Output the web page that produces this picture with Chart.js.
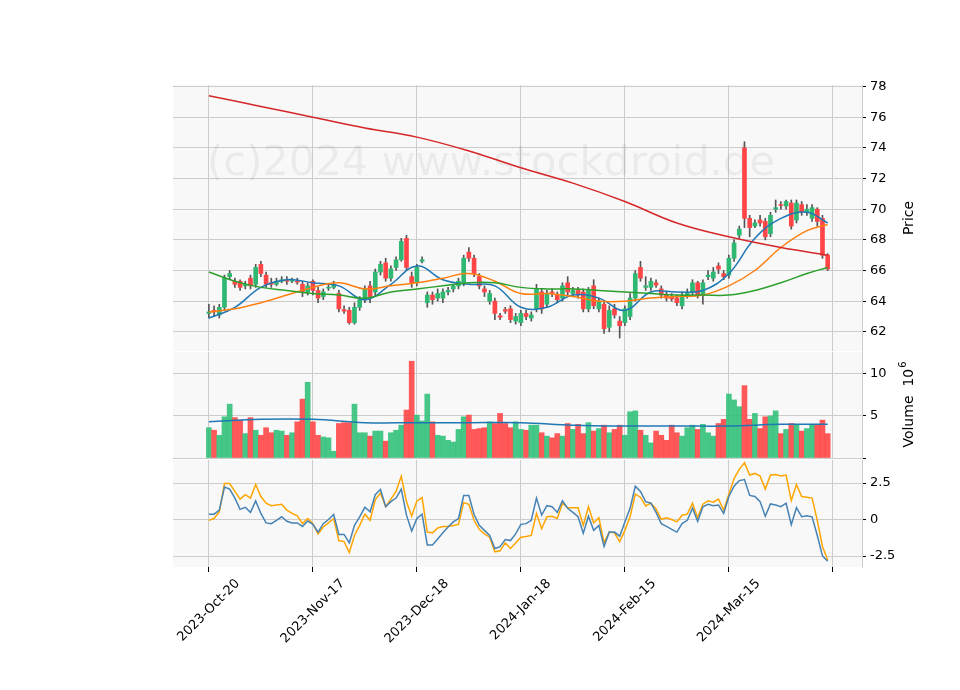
<!DOCTYPE html>
<html>
<head>
<meta charset="utf-8">
<script src="https://cdn.jsdelivr.net/npm/chart.js@4"></script>
<style>
  body { margin: 0; background: #fff; }
  #wrap { position: relative; width: 960px; height: 690px; }
  canvas { position: absolute; left: 0; top: 0; }
</style>
</head>
<body>
<div id="wrap">
  <canvas id="price" width="960" height="690"></canvas>
  <canvas id="volume" width="960" height="690"></canvas>
  <canvas id="osc" width="960" height="690"></canvas>
</div>
<script>
// tick labels on the x axis (every 20 trading days)
const tickIdx = [0, 20, 40, 60, 80, 100, 120];
const tickLabels = ["2023-Oct-20", "2023-Nov-17", "2023-Dec-18", "2024-Jan-18", "2024-Feb-15", "2024-Mar-15", ""];

// daily candles, index 0 = 2023-Oct-20
const opens = [63.2,63.4,63.1,63.6,65.6,65.3,65.3,65.0,65.5,65.1, 66.4,65.7,65.2,65.1,65.3,65.4,65.3,65.3,65.1,64.6,
  65.3,64.7,64.3,64.85,64.9,64.5,63.45,63.4,62.6,63.6, 64.1,65.0,64.6,65.9,66.5,65.5,66.2,66.7,68.1,65.6,
  65.2,66.6,63.9,64.4,64.2,64.2,64.6,64.8,65.0,65.2, 67.2,66.8,65.6,64.8,64.0,64.0,63.05,63.45,63.5,62.7,
  62.6,63.2,62.9,63.5,64.6,63.8,64.6,64.4,64.2,65.2, 64.5,64.7,64.6,63.5,65.0,63.5,63.8,62.3,63.5,62.7,
  62.6,63.0,64.2,66.2,64.9,64.9,65.2,64.8,64.4,64.25, 64.2,63.7,64.4,64.6,65.2,64.4,65.6,65.5,66.3,65.8,
  65.7,66.8,68.3,74.0,69.4,68.9,69.3,69.2,68.4,70.0, 70.3,70.2,70.4,69.3,70.3,69.8,69.4,70.0,69.4,67.0];
const closes = [63.3,63.3,63.6,65.5,65.8,65.1,64.9,65.1,65.0,66.2, 65.8,65.1,65.1,65.3,65.4,65.3,65.35,65.25,64.6,65.0,
  64.7,64.2,64.6,64.9,65.1,63.5,63.35,62.6,63.6,64.1, 64.8,64.3,65.9,66.4,65.5,66.1,66.7,67.9,66.2,65.2,
  66.2,66.7,64.4,64.1,64.5,64.6,64.7,65.0,65.3,66.8, 66.8,65.8,65.0,64.6,64.5,63.2,62.95,63.35,62.8,63.0,
  63.2,63.0,63.1,64.8,63.5,64.5,64.5,64.1,65.0,64.6, 64.7,64.4,63.5,64.7,63.7,64.0,62.2,63.4,63.1,62.4,
  63.5,64.2,65.8,65.5,65.0,65.3,65.05,64.4,64.2,64.15, 63.9,64.4,64.5,65.2,64.4,65.2,65.7,65.9,66.1,65.6,
  66.8,67.8,68.7,69.4,68.8,69.1,69.1,68.2,69.6,70.1, 70.25,70.5,68.9,70.4,69.8,70.0,70.1,69.2,67.0,66.1];
const highs = [63.8,63.7,63.8,65.7,66.0,65.5,65.4,65.3,65.7,66.4, 66.6,65.9,65.5,65.5,65.6,65.6,65.5,65.5,65.3,65.2,
  65.4,64.9,64.8,65.1,65.3,64.7,63.7,63.6,63.9,64.3, 65.0,65.3,66.1,66.6,66.8,66.3,66.9,68.1,68.3,65.9,
  66.4,66.9,64.6,64.6,64.8,64.8,64.9,65.1,65.5,67.0, 67.5,67.0,65.8,65.0,64.7,64.2,63.2,63.6,63.7,63.2,
  63.4,63.4,63.3,65.1,64.8,64.7,64.8,64.6,65.2,65.6, 64.9,64.9,64.8,64.9,65.4,64.2,64.0,63.7,63.8,63.0,
  63.7,64.5,66.0,66.6,65.6,65.5,65.4,65.0,64.6,64.5, 64.4,64.6,64.8,65.4,65.3,65.4,66.0,66.2,66.5,66.0,
  67.0,68.0,68.9,74.4,69.6,69.3,69.6,69.4,69.8,70.6, 70.5,70.6,70.6,70.6,70.5,70.3,70.3,70.1,69.6,67.1];
const lows = [62.9,63.0,62.9,63.4,65.4,64.9,64.7,64.8,64.8,64.9, 65.6,64.9,64.9,65.0,65.2,65.1,65.2,65.1,64.3,64.4,
  64.4,63.9,64.1,64.7,64.8,63.3,63.2,62.5,62.5,63.4, 63.9,63.9,64.3,65.7,65.3,65.3,66.0,66.6,66.0,64.9,
  65.0,66.5,63.6,63.8,64.0,63.9,64.4,64.6,64.8,65.0, 66.6,65.6,64.8,64.3,63.8,62.8,62.8,63.2,62.6,62.5,
  62.4,62.8,62.7,63.3,63.2,63.6,64.3,63.9,64.0,64.4, 64.3,64.2,63.3,63.3,63.5,63.3,61.9,62.0,62.9,61.6,
  62.4,62.8,64.0,65.3,64.7,64.7,64.9,64.2,64.0,64.0, 63.7,63.5,64.2,64.4,64.2,63.8,65.4,65.3,65.8,65.4,
  65.5,66.6,68.1,68.8,68.2,68.8,68.9,68.0,68.2,69.8, 70.0,70.0,68.7,69.1,69.6,69.6,69.2,68.9,66.8,66.0];

// moving averages, read every 5 trading days
const maIdx = [0,5,10,15,20,25,30,35,40,45,50,55,60,65,70,75,80,85,90,95,100,105,110,115,119];
const maShort = [62.9,63.6,64.9,65.4,65.2,65.0,64.1,65.1,66.3,65.4,65.1,65.0,63.6,63.6,64.4,64.2,63.4,64.6,64.6,64.7,65.8,68.1,69.4,69.8,69.1];
const maMid = [63.3,63.5,63.9,64.4,64.9,65.2,64.8,65.0,65.2,65.5,65.8,65.3,64.5,64.5,64.3,64.0,64.0,64.2,64.3,64.4,65.0,66.0,67.5,68.6,69.0];
const maLong = [65.9,65.3,64.9,64.7,64.5,64.4,64.2,64.6,64.8,65.0,65.2,65.2,64.9,64.8,64.8,64.7,64.6,64.5,64.4,64.4,64.4,64.7,65.2,65.8,66.2];
// 200 day average, read every 10 trading days
const ma200Idx = [0,10,20,30,40,50,60,70,80,90,100,110,119];
const ma200 = [77.4,76.7,76.0,75.3,74.7,73.8,72.7,71.7,70.5,69.1,68.2,67.5,67.0];

// volume in millions
const volumes = [3.6,3.3,2.7,4.9,6.4,4.8,4.5,2.9,4.8,3.3, 2.7,3.6,3.0,3.3,3.2,2.7,3.0,4.3,7.0,9.0,
  4.3,2.7,2.5,2.4,0.8,4.1,4.2,4.2,6.4,3.0, 3.0,2.6,3.2,3.2,2.0,3.0,3.3,3.9,5.7,11.5,
  5.1,4.4,7.6,4.3,2.7,2.6,2.1,1.9,3.4,4.9, 5.1,3.4,3.5,3.6,4.3,4.1,5.3,4.1,3.6,4.3,
  3.4,3.3,3.9,3.9,3.0,2.6,2.4,2.9,2.6,4.1, 3.4,4.0,2.9,4.2,3.2,3.5,3.9,3.0,3.4,3.9,
  2.7,5.5,5.6,3.3,2.7,1.8,3.2,2.7,2.1,3.9, 3.0,2.6,3.6,3.9,3.4,4.0,3.0,2.6,4.1,4.6,
  7.6,6.9,6.1,8.6,4.6,5.3,3.5,4.9,5.0,5.6, 2.9,3.4,4.1,3.9,3.2,3.5,3.9,3.9,4.5,2.9];
const volMaIdx = [0,10,20,30,40,50,60,70,80,90,100,110,119];
const volMa = [4.3,4.6,4.6,4.2,4.2,4.2,4.2,3.9,3.8,3.8,3.8,4.0,4.0];

// oscillator lines
const oscBlue = [0.37,0.37,0.65,2.23,2.09,1.47,0.7,0.84,0.49,1.28, 0.42,-0.23,-0.28,-0.05,0.19,-0.12,-0.23,-0.23,-0.47,-0.09,
  -0.33,-0.86,-0.28,0,0.35,-1.02,-1.02,-1.6,-0.4,0.19, 0.84,0.53,1.7,2.07,0.88,1.23,1.47,2.09,0.3,-0.79,
  0.07,0.37,-1.74,-1.74,-1.33,-0.91,-0.51,-0.16,0.07,1.65, 1.65,0.35,-0.4,-0.74,-1.09,-1.98,-1.86,-1.37,-1.44,-0.98,
  -0.33,-0.28,-0.05,1.47,0.3,0.95,0.88,0.49,1.28,0.77, 0.49,0.19,-0.93,0.23,-0.74,-0.4,-1.84,-0.86,-0.86,-1.14,
  -0.16,0.77,2.28,1.93,1.23,1.12,0.49,-0.28,-0.47,-0.67, -0.86,-0.28,-0.05,0.77,-0.12,0.88,1.05,0.95,1.0,0.42,
  1.58,2.28,2.67,2.74,1.65,1.58,1.23,0.23,1.07,1.0, 0.88,1.12,-0.35,0.81,0.19,0.26,0.19,-1.09,-2.49,-2.86];
const oscOrange = [-0.05,0.07,0.53,2.47,2.47,1.93,1.4,1.7,1.47,2.4, 1.58,1.12,0.95,1.0,1.05,0.65,0.42,0.26,-0.28,0.07,
  -0.28,-0.98,-0.51,-0.23,0.07,-1.44,-1.51,-2.26,-1.09,-0.4, 0.37,-0.05,1.35,1.81,0.88,1.4,1.93,2.98,1.23,0.23,
  1.28,1.51,-0.86,-0.91,-0.58,-0.47,-0.47,-0.4,-0.33,1.16, 1.05,-0.05,-0.67,-0.98,-1.21,-2.21,-2.14,-1.6,-1.98,-1.6,
  -1.21,-1.16,-1.09,0.42,-0.63,0.19,0.23,0.07,1.12,0.81, 0.81,0.81,-0.4,0.88,-0.23,0.12,-1.6,-0.86,-0.91,-1.51,
  -0.74,0.19,1.74,1.53,0.93,1.12,0.72,0.02,0.12,0, -0.16,0.3,0.37,1.12,0.12,1.05,1.28,1.19,1.4,0.65,
  1.74,2.81,3.44,3.9,3.05,3.16,2.98,2.09,3.05,3.09, 2.98,3.05,1.3,2.4,1.58,1.53,1.47,-0.05,-1.84,-2.77];

const UP = "#2eb872", DOWN = "#ff4545", VUP = "rgba(40,190,115,0.85)", VDOWN = "rgba(255,60,60,0.85)";
const FONT = "DejaVu Sans";
Chart.defaults.font.family = FONT;
Chart.defaults.font.size = 13;
Chart.defaults.color = "#000";

const X_MIN = -6.9, X_MAX = 125.6;
const up = closes.map((c, i) => c >= opens[i]);

const panelBg = {
  id: "panelBg",
  beforeDraw(chart) {
    const a = chart.chartArea, ctx = chart.ctx;
    ctx.save();
    ctx.fillStyle = "#f8f8f8";
    ctx.fillRect(a.left, a.top, a.right - a.left, a.bottom - a.top);
    ctx.restore();
  }
};

// right side title, reading bottom to top like matplotlib
const sideTitle = (text, sup) => ({
  id: "sideTitle",
  afterDraw(chart) {
    const a = chart.chartArea, ctx = chart.ctx;
    ctx.save();
    ctx.translate(909, (a.top + a.bottom) / 2);
    ctx.rotate(-Math.PI / 2);
    ctx.fillStyle = "#000";
    ctx.textBaseline = "middle";
    ctx.font = "14px " + FONT;
    let w = ctx.measureText(text).width;
    ctx.font = "10px " + FONT;
    const sw = sup ? ctx.measureText(sup).width : 0;
    let x = -(w + sw) / 2;
    ctx.font = "14px " + FONT;
    ctx.fillText(text, x, 0);
    if (sup) {
      ctx.font = "10px " + FONT;
      ctx.fillText(sup, x + w + 1, -6);
    }
    ctx.restore();
  }
});

// date labels centred under their ticks, rotated 45 degrees
const dateLabels = {
  id: "dateLabels",
  afterDraw(chart) {
    const ctx = chart.ctx, sx = chart.scales.x, top = chart.chartArea.bottom + 10;
    ctx.save();
    ctx.font = "13px " + FONT;
    ctx.fillStyle = "#000";
    ctx.textAlign = "center";
    ctx.textBaseline = "middle";
    tickIdx.forEach((v, k) => {
      const t = tickLabels[k];
      if (!t) return;
      const w = ctx.measureText(t).width, h = 13;
      const half = (w + h) * Math.SQRT1_2 / 2;
      ctx.save();
      ctx.translate(sx.getPixelForValue(v), top + half);
      ctx.rotate(-Math.PI / 4);
      ctx.fillText(t, 0, 0);
      ctx.restore();
    });
    ctx.restore();
  }
};

const watermark = {
  id: "watermark",
  beforeDatasetsDraw(chart) {
    const ctx = chart.ctx, text = "(c)2024 www.stockdroid.de";
    ctx.save();
    ctx.font = "40px " + FONT;
    const w = ctx.measureText(text).width;
    const size = 40 * 568 / w;
    ctx.font = size + "px " + FONT;
    ctx.fillStyle = "rgba(0,0,0,0.055)";
    ctx.textBaseline = "middle";
    ctx.fillText(text, 207, 164);
    ctx.restore();
  }
};

const xScale = (showTicks) => ({
  type: "linear",
  min: X_MIN,
  max: X_MAX,
  offset: false,
  afterBuildTicks: s => { s.ticks = tickIdx.map(v => ({value: v})); },
  ticks: {display: false},
  grid: {color: "#cccccc", drawTicks: showTicks, tickLength: 5, tickColor: "#000", offset: false},
  border: {display: false},
  afterFit: s => { s.height = showTicks ? 123 : 0; }
});

const yScale = (min, max, ticks, hideZero) => ({
  position: "right",
  min: min,
  max: max,
  afterBuildTicks: s => { s.ticks = ticks.map(v => ({value: v})); },
  ticks: {
    padding: 4,
    callback: v => (hideZero && v === 0) ? "" : v
  },
  grid: {color: "#cccccc", tickLength: 4, tickColor: "#000"},
  border: {color: "#cccccc"},
  afterFit: s => { s.width = 50; }
});

const baseOpts = (padTop, padBottom, y, showTicks) => ({
  responsive: false,
  animation: false,
  devicePixelRatio: 1,
  layout: {padding: {left: 173, right: 48, top: padTop, bottom: padBottom}},
  plugins: {legend: {display: false}, tooltip: {enabled: false}},
  scales: {x: xScale(showTicks), y: y}
});

const pts = (idx, vals) => idx.map((x, k) => ({x: x, y: vals[k]}));
const line = (data, color, width) => ({
  type: "line", data: data, borderColor: color, borderWidth: width || 1.5,
  pointRadius: 0, tension: 0.4, fill: false
});

// price panel
new Chart("price", {
  type: "bar",
  data: {
    datasets: [
      {
        data: closes.map((c, i) => ({x: i, y: [lows[i], highs[i]]})),
        backgroundColor: "#555", barThickness: 1, grouped: false, order: 3
      },
      {
        data: closes.map((c, i) => {
          let a = opens[i], b = c;
          if (Math.abs(a - b) < 0.06) b = a + (up[i] ? 0.06 : -0.06);
          return {x: i, y: [a, b]};
        }),
        backgroundColor: up.map(u => u ? UP : DOWN),
        barThickness: 4, grouped: false, order: 2
      },
      Object.assign(line(pts(ma200Idx, ma200), "#d62728"), {order: 1}),
      Object.assign(line(pts(maIdx, maLong), "#2ca02c"), {order: 1}),
      Object.assign(line(pts(maIdx, maMid), "#ff7f0e"), {order: 1}),
      Object.assign(line(pts(maIdx, maShort), "#1f77b4"), {order: 1})
    ]
  },
  options: baseOpts(85, 339, yScale(60.75, 78.1, [62,64,66,68,70,72,74,76,78], false), false),
  plugins: [panelBg, watermark, sideTitle("Price")]
});

// volume panel
new Chart("volume", {
  type: "bar",
  data: {
    datasets: [
      Object.assign(line(pts(volMaIdx, volMa), "#1f77b4"), {order: 1}),
      {
        data: volumes.map((v, i) => ({x: i, y: v})),
        backgroundColor: up.map(u => u ? VUP : VDOWN),
        barThickness: 5, grouped: false, order: 2
      }
    ]
  },
  options: baseOpts(352, 232, yScale(0, 12.6, [0, 5, 10], true), false),
  plugins: [panelBg, sideTitle("Volume  10", "6")]
});

// oscillator panel
new Chart("osc", {
  type: "line",
  data: {
    datasets: [
      line(oscBlue.map((v, i) => ({x: i, y: v})), "#4682b4", 1.5),
      line(oscOrange.map((v, i) => ({x: i, y: v})), "#ffa500", 1.5)
    ].map(d => Object.assign(d, {tension: 0}))
  },
  options: baseOpts(460, 0, yScale(-3.25, 4.08, [-2.5, 0, 2.5], false), true),
  plugins: [panelBg, dateLabels]
});
</script>
</body>
</html>
